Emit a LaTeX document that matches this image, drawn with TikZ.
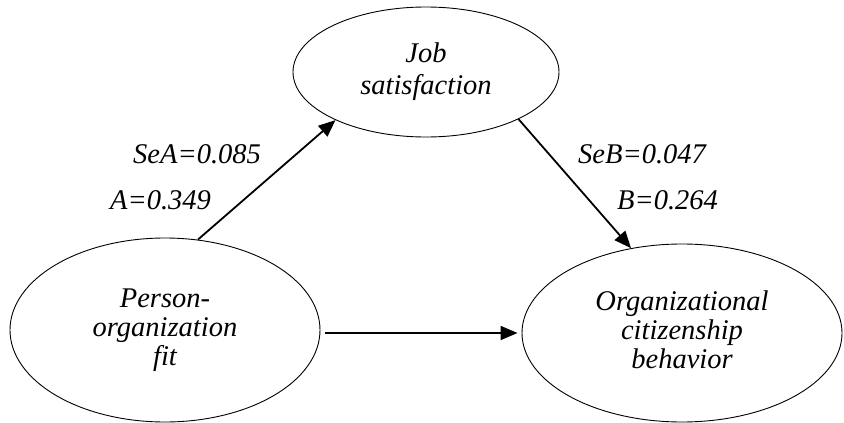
\documentclass[tikz,border=0pt]{standalone}
\usepackage{fontspec}
\newfontfamily\labfont{LiberationSerif-Italic.ttf}
\usetikzlibrary{shapes.geometric,arrows.meta}
\tikzset{
  construct/.style={draw=black, line width=0.9pt, ellipse, inner sep=0pt, align=center,
    font=\labfont\fontsize{28.5}{31}\selectfont},
  path/.style={line width=1.8pt, -{Triangle[length=17pt,width=14pt]}},
  coef/.style={font=\labfont\fontsize{28.5}{31}\selectfont, inner sep=0pt, anchor=base west}
}
\begin{document}
\begin{tikzpicture}[x=1pt,y=-1pt]
\useasboundingbox (0,0) rectangle (844,423);
\node[construct, minimum width=266pt, minimum height=130pt] (js) at (426,72)
  {\raisebox{-6pt}{\begin{tabular}{c}Job\\[1pt]satisfaction\end{tabular}}};
\node[construct, minimum width=310pt, minimum height=184pt] (pof) at (165,330)
  {\raisebox{-2pt}{\begin{tabular}{c}Person-\\[-2pt]organization\\[-2pt]fit\end{tabular}}};
\node[construct, minimum width=320pt, minimum height=178pt] (ocb) at (682,333)
  {\raisebox{-4pt}{\begin{tabular}{c}Organizational\\[-2pt]citizenship\\[-2pt]behavior\end{tabular}}};
\draw[path] (pof.70) -- (js.208);
\draw[path] (js.333) -- (ocb.121);
\draw[path, shorten <=5pt, shorten >=4pt] (pof.east |- ocb.west) -- (ocb.west);
\node[coef] (sea) at (133,163) {SeA=0.085};
\node[coef] (a) at (110,209) {A=0.349};
\node[coef] (seb) at (578,163) {SeB=0.047};
\node[coef] (b) at (617,209) {B=0.264};
\end{tikzpicture}
\end{document}
